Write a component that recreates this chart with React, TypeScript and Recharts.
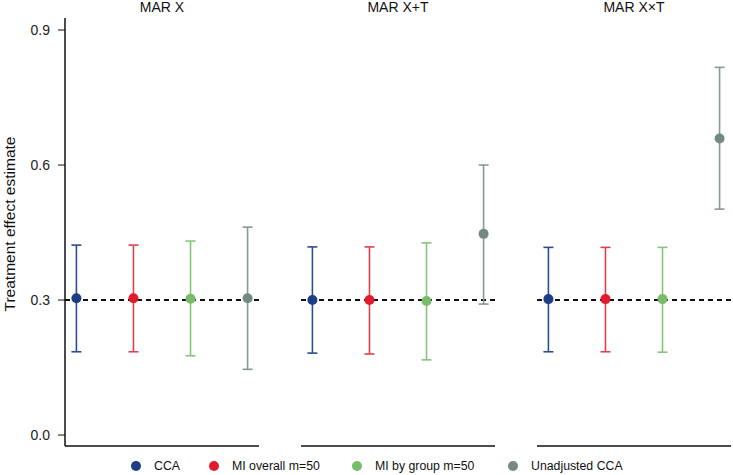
import {
  ComposedChart,
  ErrorBar,
  ReferenceLine,
  Scatter,
  XAxis,
  YAxis,
} from "recharts";

const panels = ["MAR X", "MAR X+T", "MAR X×T"];
const methods = ["CCA", "MI overall m=50", "MI by group m=50", "Unadjusted CCA"];

// estimate / lower / upper per method, one row per panel
const cca = { est: [0.304, 0.3, 0.302], lo: [0.185, 0.182, 0.185], hi: [0.422, 0.418, 0.417] };
const miOverall = { est: [0.304, 0.3, 0.302], lo: [0.185, 0.18, 0.185], hi: [0.422, 0.418, 0.417] };
const miGroup = { est: [0.303, 0.298, 0.302], lo: [0.176, 0.167, 0.184], hi: [0.431, 0.427, 0.417] };
const unadjusted = { est: [0.304, 0.447, 0.659], lo: [0.146, 0.291, 0.502], hi: [0.462, 0.6, 0.817] };

const trueEffect = 0.3;
const yTicks = [0, 0.3, 0.6, 0.9];

const series = [cca, miOverall, miGroup, unadjusted];
const dotColors = ["#1f3d85", "#e11b2c", "#78bb6a", "#728a81"];
const barColors = ["#2d4b8d", "#e0404e", "#88c47b", "#879a92"];
const legendX = [136, 214, 357, 513];

const FONT = '"Liberation Sans", Arial, Helvetica, sans-serif';
const PANEL_LEFT = [65, 301, 537];
const PANEL_W = 194;
const Y_AXIS_W = 65;
const CHART_H = 475;
const MARGIN = { top: 18, right: 0, bottom: 28, left: 0 };
const Y_DOMAIN: [number, number] = [-0.0244, 0.9267];

function pointData(methodIdx: number, panelIdx: number) {
  const s = series[methodIdx];
  const est = s.est[panelIdx];
  return [
    {
      x: methodIdx + 1,
      y: est,
      err: [est - s.lo[panelIdx], s.hi[panelIdx] - est],
    },
  ];
}

function Panel({ index }: { index: number }) {
  const withAxis = index === 0;
  const width = PANEL_W + (withAxis ? Y_AXIS_W : 0);
  const left = PANEL_LEFT[index] - (withAxis ? Y_AXIS_W : 0);
  return (
    <div style={{ position: "absolute", left, top: 0 }}>
      <ComposedChart width={width} height={CHART_H} margin={MARGIN}>
        <XAxis
          type="number"
          dataKey="x"
          domain={[0.8, 4.2]}
          allowDataOverflow
          tick={false}
          tickLine={false}
          height={1}
          axisLine={{ stroke: "#111", strokeWidth: 1.5 }}
        />
        <YAxis
          type="number"
          dataKey="y"
          domain={Y_DOMAIN}
          allowDataOverflow
          ticks={yTicks}
          hide={!withAxis}
          width={Y_AXIS_W}
          tickFormatter={(v) => Number(v).toFixed(1)}
          tick={{ fill: "#222", fontSize: 14, fontFamily: FONT }}
          tickSize={7}
          tickMargin={8}
          tickLine={{ stroke: "#111" }}
          axisLine={{ stroke: "#111", strokeWidth: 1.5 }}
        />
        <ReferenceLine
          y={trueEffect}
          stroke="#111"
          strokeWidth={1.8}
          strokeDasharray="5 4"
        />
        {methods.map((m, mi) => (
          <Scatter
            key={m}
            name={m}
            data={pointData(mi, index)}
            fill={dotColors[mi]}
            isAnimationActive={false}
            shape={(p: any) => <circle cx={p.cx} cy={p.cy} r={5} fill={dotColors[mi]} />}
          >
            <ErrorBar
              dataKey="err"
              direction="y"
              width={5}
              stroke={barColors[mi]}
              strokeWidth={1.6}
              isAnimationActive={false}
            />
          </Scatter>
        ))}
      </ComposedChart>
      <div
        style={{
          position: "absolute",
          left: withAxis ? Y_AXIS_W : 0,
          top: -1,
          width: PANEL_W,
          textAlign: "center",
          fontFamily: FONT,
          fontSize: 14,
          color: "#111",
        }}
      >
        {panels[index]}
      </div>
    </div>
  );
}

export default function App() {
  return (
    <div
      style={{
        position: "absolute",
        left: 0,
        top: 0,
        width: 733,
        height: 475,
        background: "#fff",
        fontFamily: FONT,
        overflow: "hidden",
      }}
    >
      {panels.map((p, i) => (
        <Panel key={p} index={i} />
      ))}
      <div
        style={{
          position: "absolute",
          left: 9.5,
          top: 224,
          transform: "translate(-50%, -50%) rotate(-90deg)",
          whiteSpace: "nowrap",
          fontSize: 15.5,
          lineHeight: "16px",
          color: "#111",
        }}
      >
        Treatment effect estimate
      </div>
      {methods.map((m, mi) => (
        <div
          key={m}
          style={{
            position: "absolute",
            left: legendX[mi] - 5,
            top: 458,
            height: 16,
            display: "flex",
            alignItems: "center",
            fontSize: 12.3,
            color: "#111",
            whiteSpace: "nowrap",
          }}
        >
          <span
            style={{
              display: "inline-block",
              width: 10,
              height: 10,
              borderRadius: 5,
              background: dotColors[mi],
              marginRight: 13,
            }}
          />
          {m}
        </div>
      ))}
    </div>
  );
}
